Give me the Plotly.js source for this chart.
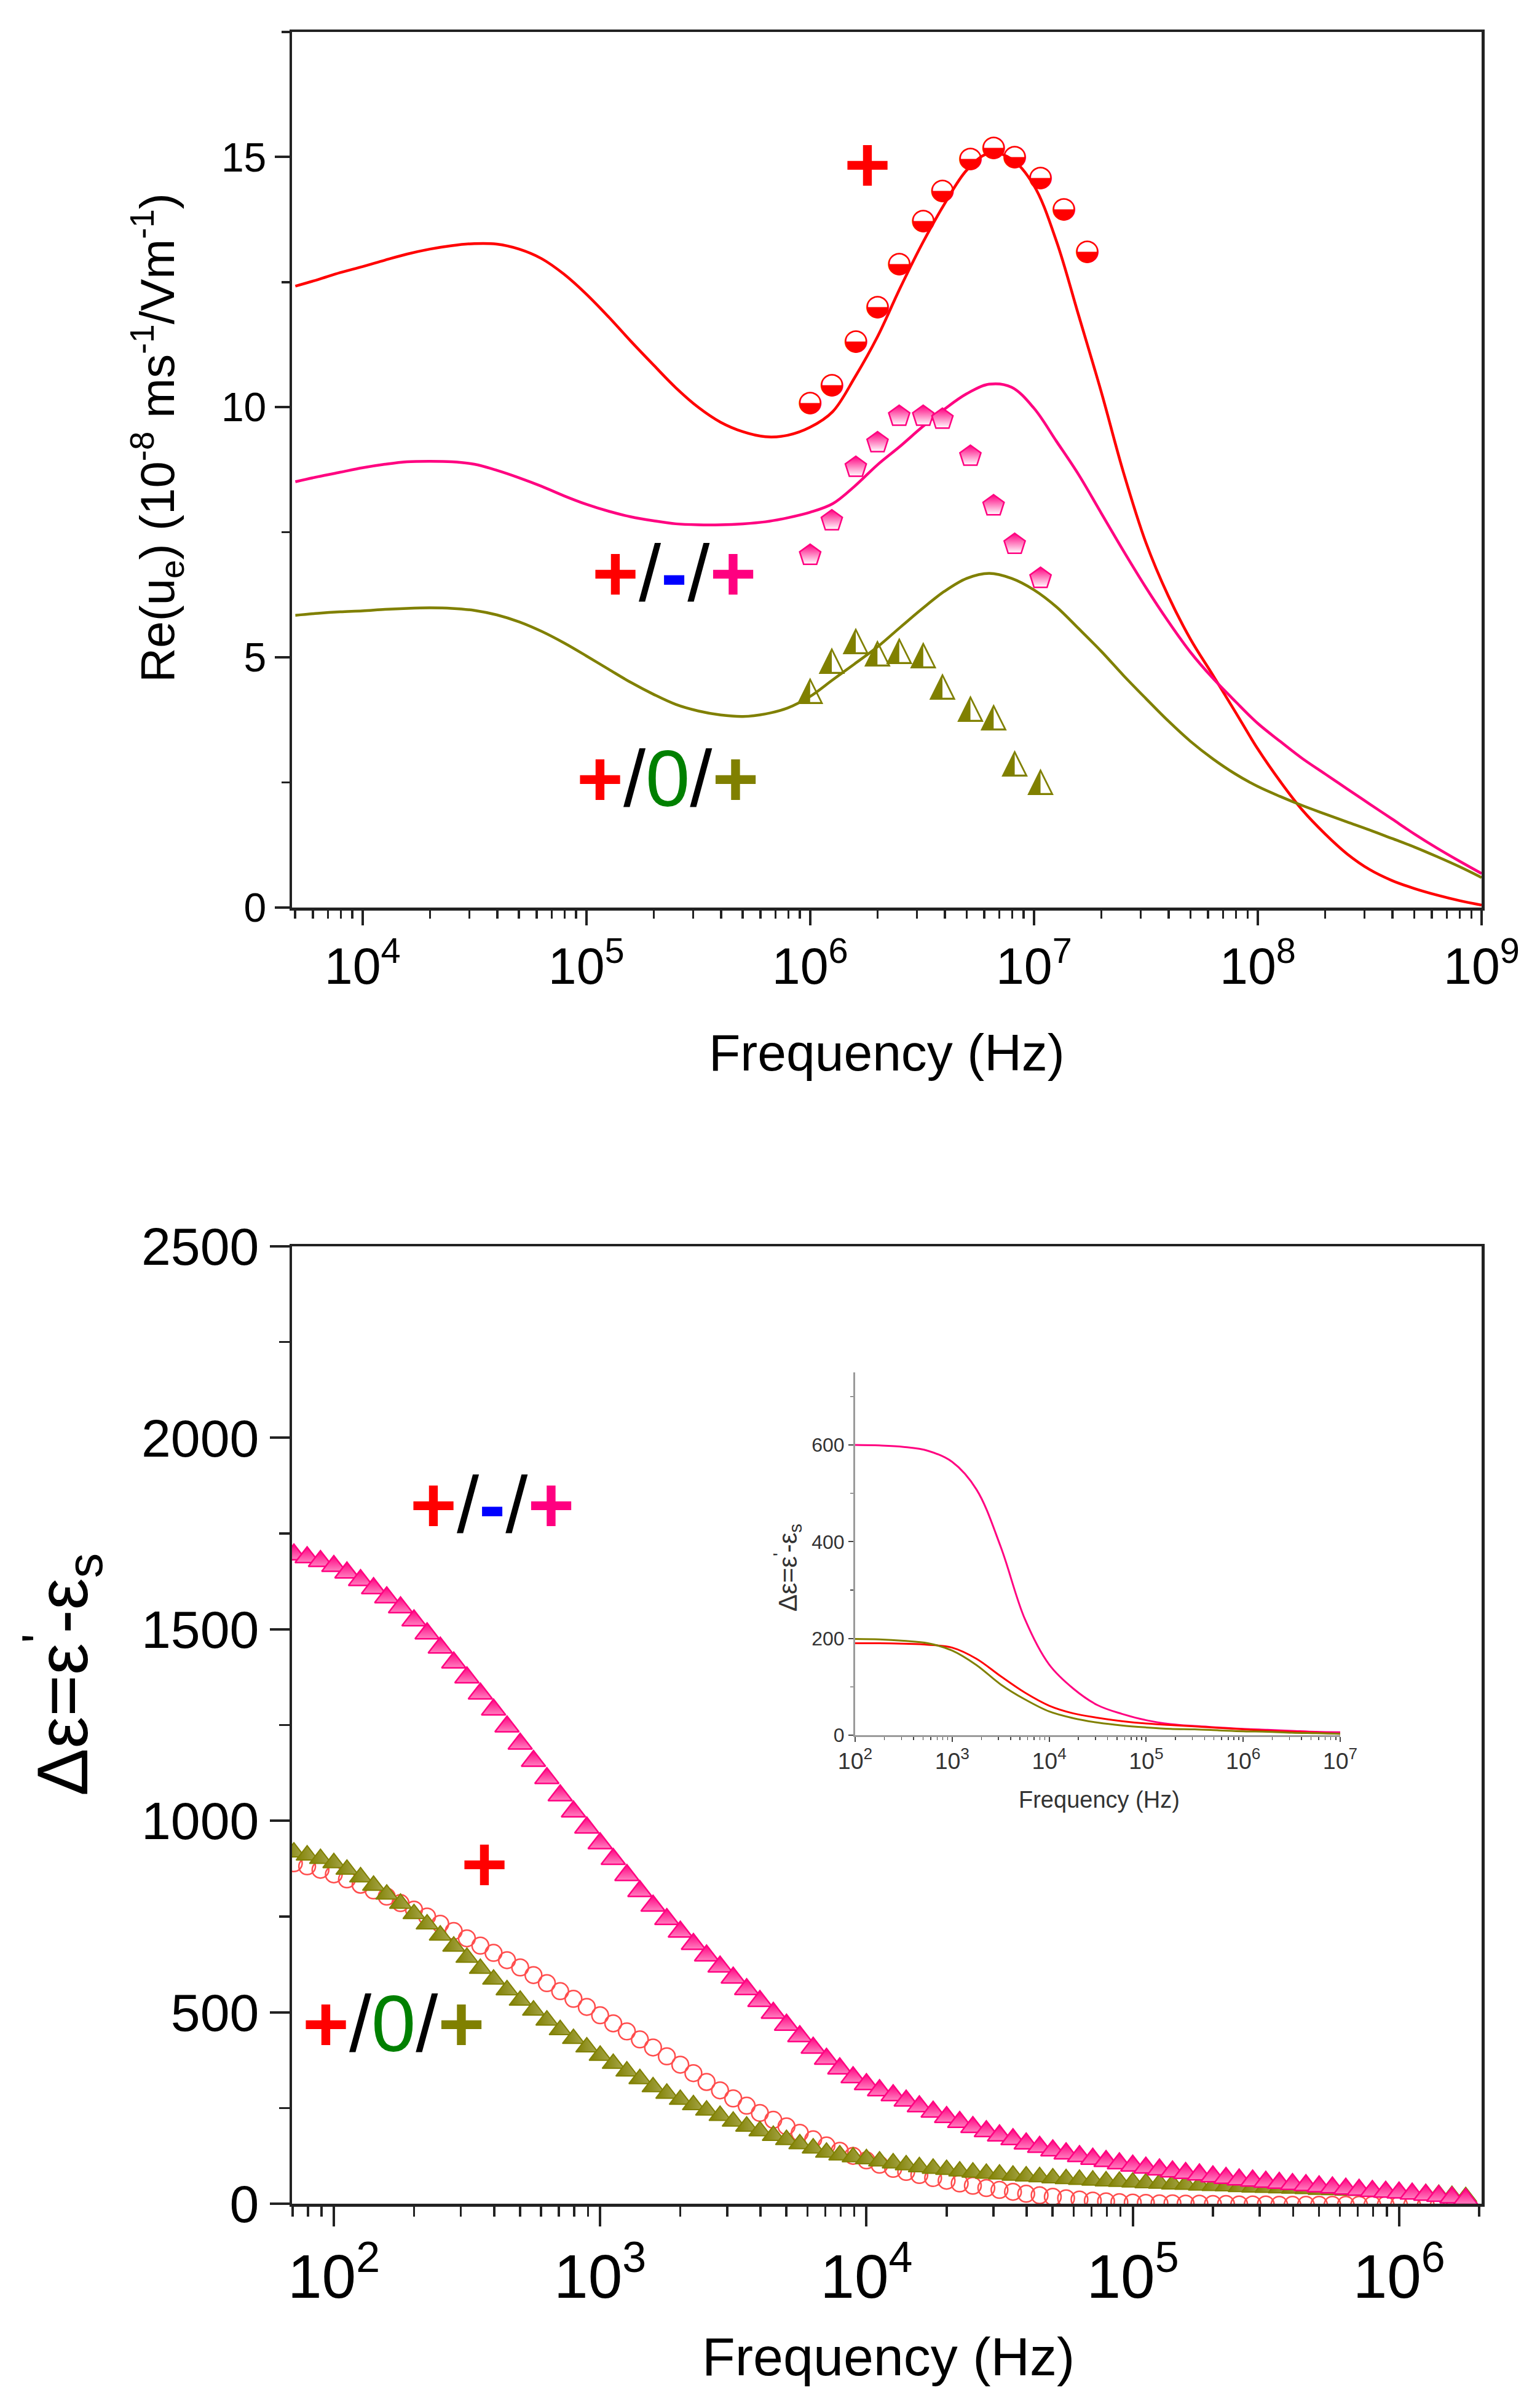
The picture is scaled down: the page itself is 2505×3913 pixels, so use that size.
<!DOCTYPE html>
<html>
<head>
<meta charset="utf-8">
<script src="https://cdn.plot.ly/plotly-3.0.1.min.js"></script>
<style>
  body { margin: 0; background: #fff; }
  #myGraph { width: 2505px; height: 3913px; }
</style>
</head>
<body>
<div id="myGraph"></div>
<script>
// ---- top panel: Re(ue) model curves ----
let freqLine = [
  5.01e3, 6.31e3, 7.94e3,
  1e4, 1.26e4, 1.58e4, 2.0e4, 2.51e4, 3.16e4, 3.98e4, 5.01e4, 6.31e4, 7.94e4,
  1e5, 1.26e5, 1.58e5, 2.0e5, 2.51e5, 3.16e5, 3.98e5, 5.01e5, 6.31e5, 7.94e5,
  1e6, 1.26e6, 1.58e6, 2.0e6, 2.51e6, 3.16e6, 3.98e6, 5.01e6, 6.31e6, 7.94e6,
  1e7, 1.26e7, 1.58e7, 2.0e7, 2.51e7, 3.16e7, 3.98e7, 5.01e7, 6.31e7, 7.94e7,
  1e8, 1.26e8, 1.58e8, 2.0e8, 2.51e8, 3.16e8, 3.98e8, 5.01e8, 6.31e8, 7.94e8,
  1e9
];
let redLine = [
  12.42, 12.55, 12.69,
  12.81, 12.94, 13.06, 13.16, 13.23, 13.27, 13.26, 13.16, 12.97, 12.66,
  12.26, 11.80, 11.32, 10.84, 10.39, 10.00, 9.70, 9.51, 9.41, 9.44,
  9.60, 9.91, 10.59, 11.41, 12.36, 13.26, 14.06, 14.74, 15.08, 14.96,
  14.43, 13.32, 11.85, 10.30, 8.70, 7.30, 6.23, 5.36, 4.64, 3.91,
  3.17, 2.52, 1.95, 1.47, 1.07, 0.76, 0.54, 0.38, 0.25, 0.14,
  0.05
];
let pinkLine = [
  8.51, 8.61, 8.70,
  8.79, 8.86, 8.91, 8.92, 8.91, 8.86, 8.74, 8.59, 8.42, 8.23,
  8.06, 7.92, 7.81, 7.73, 7.67, 7.65, 7.65, 7.67, 7.71, 7.79,
  7.90, 8.07, 8.42, 8.85, 9.21, 9.60, 9.96, 10.27, 10.46, 10.40,
  9.98, 9.32, 8.66, 7.88, 7.13, 6.40, 5.72, 5.10, 4.58, 4.12,
  3.68, 3.32, 2.98, 2.67, 2.37, 2.07, 1.77, 1.47, 1.19, 0.93,
  0.68
];
let oliveLine = [
  5.84, 5.88, 5.91,
  5.93, 5.96, 5.98, 5.99, 5.98, 5.94, 5.85, 5.71, 5.52, 5.29,
  5.03, 4.76, 4.50, 4.26, 4.06, 3.93, 3.85, 3.82, 3.87, 3.99,
  4.22, 4.55, 4.87, 5.21, 5.59, 5.97, 6.32, 6.58, 6.68, 6.58,
  6.35, 6.01, 5.58, 5.12, 4.64, 4.18, 3.73, 3.32, 2.97, 2.67,
  2.42, 2.22, 2.04, 1.87, 1.71, 1.55, 1.38, 1.21, 1.02, 0.82,
  0.60
];

// ---- top panel: measured points ----
let freqPts = [1.0e6, 1.25e6, 1.6e6, 2.0e6, 2.5e6, 3.2e6, 3.9e6, 5.2e6, 6.6e6, 8.2e6, 1.07e7, 1.36e7, 1.73e7];
let redPts = [10.08, 10.43, 11.31, 11.99, 12.86, 13.72, 14.32, 14.96, 15.18, 14.99, 14.58, 13.95, 13.10];
let pinkPts = [7.04, 7.73, 8.80, 9.29, 9.82, 9.82, 9.76, 9.02, 8.03, 7.26, 6.58];
let olivePts = [4.32, 4.93, 5.32, 5.07, 5.12, 5.04, 4.41, 3.97, 3.80, 2.87, 2.51];

// ---- bottom panel: delta epsilon ----
let freqBot = [
  70.8, 79.4, 89.1,
  100, 112, 126, 141, 158, 178, 200, 224, 251, 282, 316, 355, 398, 447, 501, 562, 631, 708, 794, 891,
  1.00e3, 1.12e3, 1.26e3, 1.41e3, 1.58e3, 1.78e3, 2.00e3, 2.24e3, 2.51e3, 2.82e3, 3.16e3, 3.55e3, 3.98e3, 4.47e3, 5.01e3, 5.62e3, 6.31e3, 7.08e3, 7.94e3, 8.91e3,
  1.00e4, 1.12e4, 1.26e4, 1.41e4, 1.58e4, 1.78e4, 2.00e4, 2.24e4, 2.51e4, 2.82e4, 3.16e4, 3.55e4, 3.98e4, 4.47e4, 5.01e4, 5.62e4, 6.31e4, 7.08e4, 7.94e4, 8.91e4,
  1.00e5, 1.12e5, 1.26e5, 1.41e5, 1.58e5, 1.78e5, 2.00e5, 2.24e5, 2.51e5, 2.82e5, 3.16e5, 3.55e5, 3.98e5, 4.47e5, 5.01e5, 5.62e5, 6.31e5, 7.08e5, 7.94e5, 8.91e5,
  1.00e6, 1.12e6, 1.26e6, 1.41e6, 1.58e6, 1.78e6
];
let pinkBot = [
  1695, 1688, 1678,
  1665, 1648, 1628, 1607, 1583, 1557, 1523, 1489, 1452, 1413, 1374, 1332, 1290, 1246, 1201, 1156, 1111, 1066, 1024, 982,
  941, 900, 858, 816, 778, 743, 710, 678, 648, 619, 590, 560, 529, 498, 467, 437, 407, 378, 353, 330,
  312, 296, 283, 269, 254, 240, 226, 213, 200, 189, 178, 168, 157, 148, 139, 131, 124, 117, 111, 105,
  99, 94, 89, 84, 80, 76, 71, 67, 63, 60, 57, 54, 51, 48, 45, 42, 39, 36, 33, 31,
  29, 26, 23, 20, 16, 12
];
let oliveBot = [
  918, 910, 901,
  890, 873, 853, 831, 808, 784, 757, 730, 701, 672, 643, 614, 586, 558, 531, 505, 479, 454, 431, 409,
  387, 366, 346, 326, 305, 288, 272, 258, 244, 230, 215, 202, 190, 178, 167, 156, 145, 134, 127, 122,
  117, 111, 106, 101, 96, 92, 89, 85, 82, 79, 77, 74, 72, 70, 67, 65, 63, 61, 59, 58,
  56, 54, 53, 51, 50, 48, 47, 46, 44, 43, 42, 41, 40, 39, 37, 36, 35, 34, 33, 31,
  30, 28, 26, 24, 21, 18
];
let redBot = [
  889, 881, 872,
  860, 847, 833, 818, 802, 785, 768, 750, 731, 712, 693, 674, 655, 636, 617, 597, 576, 555, 535, 514,
  492, 471, 450, 429, 408, 385, 363, 341, 318, 296, 275, 256, 237, 219, 202, 185, 168, 152, 138, 125,
  113, 102, 91, 83, 75, 67, 60, 53, 47, 41, 36, 31, 26, 22, 18, 14, 11, 8, 6, 4,
  3, 2, 1, 1, 0, 0, -1, -1, -2, -2, -2, -3, -3, -3, -3, -3, -3, -3, -3, -3,
  -3, -3, -3, -3, -3, -3
];

// ---- inset ----
let freqInset = [
  1e2, 1.78e2, 3.16e2, 5.62e2, 1e3, 1.78e3, 3.16e3, 5.62e3, 1e4, 1.78e4, 3.16e4, 5.62e4,
  1e5, 1.78e5, 3.16e5, 5.62e5, 1e6, 1.78e6, 3.16e6, 5.62e6, 1e7
];
let pinkInset = [600, 599, 596, 588, 565, 508, 390, 240, 146, 96, 62, 44, 31, 23, 19, 16, 13, 11, 9, 7, 6];
let redInset = [190, 190, 189, 187, 181, 158, 122, 88, 61, 45, 36, 29, 24, 21, 18, 15, 12, 9, 7, 5, 3];
let oliveInset = [199, 198, 195, 190, 175, 145, 105, 74, 49, 35, 26, 20, 16, 13, 12, 10, 8, 7, 5, 4, 3];

const RED = '#ff0000', PINK = '#ff0080', OLIVE = '#808000';
const FONT = 'Liberation Sans, Arial, sans-serif';
const W = 2505, H = 3913;

function line(x, y, color, xa, ya, width) {
    return {
        type: 'scatter', mode: 'lines', x: x, y: y,
        xaxis: xa, yaxis: ya, hoverinfo: 'skip',
        line: {color: color, width: width, shape: 'spline', smoothing: 1}
    };
}

let data = [
    line(freqLine, redLine, RED, 'x', 'y', 4.5),
    line(freqLine, pinkLine, PINK, 'x', 'y', 4.5),
    line(freqLine, oliveLine, OLIVE, 'x', 'y', 4.5),
    {
        type: 'scatter', mode: 'text', x: freqPts, y: redPts, text: '\u25D2',
        xaxis: 'x', yaxis: 'y', hoverinfo: 'skip',
        textfont: {family: 'DejaVu Sans', size: 48, color: RED}
    },
    {
        type: 'scatter', mode: 'markers', x: freqPts.slice(0, pinkPts.length), y: pinkPts,
        xaxis: 'x', yaxis: 'y', hoverinfo: 'skip',
        marker: {symbol: 'pentagon', size: 36, color: PINK,
                 gradient: {type: 'vertical', color: '#ffffff'},
                 line: {color: PINK, width: 2.5}}
    },
    {
        type: 'scatter', mode: 'text', x: freqPts.slice(0, olivePts.length), y: olivePts, text: '\u25ED',
        xaxis: 'x', yaxis: 'y', hoverinfo: 'skip',
        textfont: {family: 'DejaVu Sans', size: 56, color: OLIVE}
    },
    {
        type: 'scatter', mode: 'markers', x: freqBot, y: redBot,
        xaxis: 'x2', yaxis: 'y2', hoverinfo: 'skip',
        marker: {symbol: 'circle-open', size: 27, color: '#ff4d4d', line: {width: 2.5}}
    },
    {
        type: 'scatter', mode: 'markers', x: freqBot, y: oliveBot,
        xaxis: 'x2', yaxis: 'y2', hoverinfo: 'skip',
        marker: {symbol: 'triangle-up', size: 31, color: OLIVE,
                 gradient: {type: 'horizontal', color: '#a8a850'},
                 line: {color: OLIVE, width: 2}}
    },
    {
        type: 'scatter', mode: 'markers', x: freqBot, y: pinkBot,
        xaxis: 'x2', yaxis: 'y2', hoverinfo: 'skip',
        marker: {symbol: 'triangle-up', size: 34, color: PINK,
                 gradient: {type: 'vertical', color: '#ff80c0'},
                 line: {color: PINK, width: 2.5}}
    },
    line(freqInset, pinkInset, PINK, 'x3', 'y3', 3),
    line(freqInset, redInset, RED, 'x3', 'y3', 3),
    line(freqInset, oliveInset, OLIVE, 'x3', 'y3', 3)
];

function mainAxis(extra) {
    return Object.assign({
        showgrid: false, zeroline: false, mirror: true,
        showline: true, linecolor: '#222', linewidth: 4.5,
        ticks: 'outside', tickcolor: '#222', tickwidth: 4,
        tickfont: {family: FONT, color: '#000'}
    }, extra);
}

// paper position helpers (pixel -> paper)
const px = v => v / W;
const py = v => 1 - v / H;

function note(text, x, y, size, extra) {
    return Object.assign({
        xref: 'paper', yref: 'paper', x: px(x), y: py(y),
        xanchor: 'center', yanchor: 'middle', showarrow: false,
        text: text, font: {family: FONT, size: size, color: '#000'}
    }, extra || {});
}

const plusMinusPlus = '<span style="color:' + RED + '"><b>+</b></span>/' +
    '<span style="color:#0000ff"><b>-</b></span>/' +
    '<span style="color:' + PINK + '"><b>+</b></span>';
const plusZeroPlus = '<span style="color:' + RED + '"><b>+</b></span>/' +
    '<span style="color:#008000">0</span>/' +
    '<span style="color:' + OLIVE + '"><b>+</b></span>';

let layout = {
    width: W, height: H,
    margin: {l: 0, r: 0, t: 0, b: 0},
    paper_bgcolor: '#fff', plot_bgcolor: 'rgba(0,0,0,0)',
    showlegend: false,
    font: {family: FONT},
    xaxis: mainAxis({
        type: 'log', range: [3.685, 9], domain: [px(475), px(2410)], anchor: 'y',
        dtick: 1, exponentformat: 'power', ticklen: 24, tickfont: {family: FONT, size: 66, color: '#000'},
        minor: {dtick: 'D1', ticks: 'outside', ticklen: 13, tickwidth: 3.5, tickcolor: '#222'}
    }),
    yaxis: mainAxis({
        range: [0, 17.5], domain: [py(1476), py(52)], anchor: 'x',
        dtick: 5, ticklen: 24, tickfont: {family: FONT, size: 66, color: '#000'},
        minor: {dtick: 2.5, ticks: 'outside', ticklen: 13, tickwidth: 3.5, tickcolor: '#222'}
    }),
    xaxis2: mainAxis({
        type: 'log', range: [1.843, 6.31], domain: [px(475), px(2410)], anchor: 'y2',
        dtick: 1, exponentformat: 'power', ticklen: 32, tickfont: {family: FONT, size: 80, color: '#000'},
        minor: {dtick: 'D1', ticks: 'outside', ticklen: 16, tickwidth: 3.5, tickcolor: '#222'}
    }),
    yaxis2: mainAxis({
        range: [0, 2500], domain: [py(3584), py(2027)], anchor: 'x2',
        dtick: 500, ticklen: 32, tickfont: {family: FONT, size: 86, color: '#000'},
        minor: {dtick: 250, ticks: 'outside', ticklen: 17, tickwidth: 3.5, tickcolor: '#222'}
    }),
    xaxis3: {
        type: 'log', range: [2, 7], domain: [px(1391), px(2180)], anchor: 'y3',
        showgrid: false, zeroline: false, showline: true, linecolor: '#9a9a9a', linewidth: 3,
        ticks: 'outside', ticklen: 8, tickwidth: 2, tickcolor: '#444',
        dtick: 1, exponentformat: 'power', tickfont: {family: FONT, size: 30, color: '#333'},
        minor: {dtick: 'D1', ticks: 'outside', ticklen: 5, tickwidth: 1.5, tickcolor: '#444'}
    },
    yaxis3: {
        range: [0, 750], domain: [py(2822), py(2232)], anchor: 'x3',
        showgrid: false, zeroline: false, showline: true, linecolor: '#9a9a9a', linewidth: 3,
        ticks: 'outside', ticklen: 8, tickwidth: 2, tickcolor: '#444',
        dtick: 200, tickfont: {family: FONT, size: 32, color: '#333'},
        minor: {dtick: 100, ticks: 'outside', ticklen: 5, tickwidth: 1.5, tickcolor: '#444'}
    },
    annotations: [
        note('Frequency (Hz)', 1442, 1712, 84),
        note('Re(u<sub>e</sub>) (10<sup>-8</sup> ms<sup>-1</sup>/Vm<sup>-1</sup>)', 256, 712, 78, {textangle: -90}),
        note('Frequency (Hz)', 1445, 3832, 88),
        note('\u0394\u03b5=\u03b5<sup>\'</sup>-\u03b5<sub>s</sub>', 101, 2723, 116, {textangle: -90}),
        note('Frequency (Hz)', 1788, 2927, 38, {font: {family: FONT, size: 38, color: '#333'}}),
        note('\u0394\u03b5=\u03b5<sup>\'</sup>-\u03b5<sub>s</sub>', 1280, 2550, 42, {textangle: -90, font: {family: FONT, size: 42, color: '#333'}}),
        note('<b>+</b>', 1411, 267, 130, {font: {family: FONT, size: 130, color: RED}}),
        note(plusMinusPlus, 1096, 932, 130),
        note(plusZeroPlus, 1086, 1266, 130),
        note(plusMinusPlus, 800, 2447, 130),
        note('<b>+</b>', 788, 3031, 130, {font: {family: FONT, size: 130, color: RED}}),
        note(plusZeroPlus, 640, 3291, 130)
    ]
};

Plotly.newPlot('myGraph', data, layout, {staticPlot: true});
</script>
</body>
</html>
